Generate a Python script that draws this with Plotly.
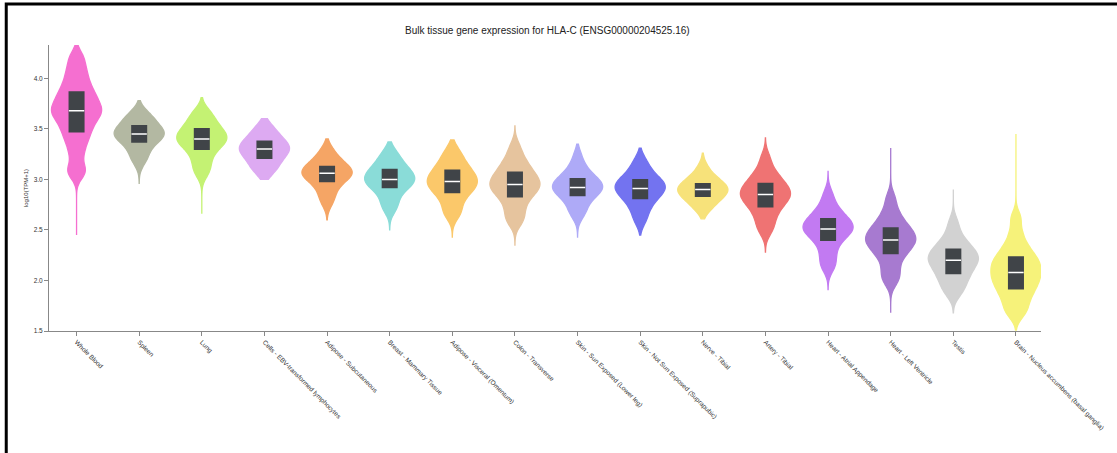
import numpy as np
import plotly.graph_objects as go

tissues = [
    "Whole Blood", "Spleen", "Lung", "Cells - EBV-transformed lymphocytes",
    "Adipose - Subcutaneous", "Breast - Mammary Tissue", "Adipose - Visceral (Omentum)",
    "Colon - Transverse", "Skin - Sun Exposed (Lower leg)", "Skin - Not Sun Exposed (Suprapubic)",
    "Nerve - Tibial", "Artery - Tibial", "Heart - Atrial Appendage", "Heart - Left Ventricle",
    "Testis", "Brain - Nucleus accumbens (basal ganglia)",
]

colors = [
    "#f56fd0", "#b3b8a2", "#c4f273", "#ddaaf2", "#f5a565", "#8adcd8", "#fbc86a",
    "#e6c49e", "#aeaaf7", "#7373f0", "#f7e27a", "#ef7373", "#c27af2", "#a77ad0",
    "#d2d2d2", "#f6f27a",
]

# observed minimum / maximum per tissue (tips of the violins)
lows = [2.45, 2.96, 2.66, 3.00, 2.60, 2.50, 2.43, 2.35, 2.43, 2.45, 2.61, 2.28, 1.91, 1.68, 1.68, 1.51]
highs = [4.33, 3.78, 3.81, 3.60, 3.40, 3.37, 3.39, 3.53, 3.35, 3.31, 3.26, 3.41, 3.08, 3.31, 2.90, 3.45]

# body of each distribution (quantiles)
whole_blood = [3.05, 3.12, 3.25, 3.35, 3.42, 3.48, 3.53, 3.58, 3.62, 3.65, 3.68, 3.71, 3.74, 3.78, 3.82, 3.86, 3.91, 3.97, 4.04, 4.12, 4.22]
spleen = [3.17, 3.21, 3.26, 3.30, 3.34, 3.37, 3.39, 3.41, 3.43, 3.44, 3.45, 3.46, 3.47, 3.49, 3.51, 3.53, 3.56, 3.58, 3.61, 3.64, 3.66]
lung = [3.05, 3.10, 3.16, 3.21, 3.26, 3.30, 3.33, 3.35, 3.37, 3.39, 3.40, 3.42, 3.44, 3.46, 3.48, 3.50, 3.53, 3.56, 3.60, 3.64, 3.68]
ebv = [3.06, 3.09, 3.12, 3.15, 3.18, 3.21, 3.23, 3.25, 3.27, 3.29, 3.30, 3.31, 3.33, 3.34, 3.36, 3.38, 3.40, 3.43, 3.46, 3.50, 3.53]
adipose_subq = [2.76, 2.81, 2.86, 2.91, 2.95, 2.98, 3.00, 3.02, 3.04, 3.05, 3.06, 3.07, 3.08, 3.10, 3.12, 3.13, 3.15, 3.18, 3.21, 3.25, 3.30]
breast = [2.70, 2.74, 2.80, 2.85, 2.89, 2.92, 2.94, 2.96, 2.98, 2.99, 3.00, 3.02, 3.04, 3.06, 3.08, 3.10, 3.12, 3.15, 3.19, 3.23, 3.28]
adipose_visc = [2.64, 2.68, 2.74, 2.80, 2.84, 2.87, 2.90, 2.92, 2.94, 2.96, 2.98, 3.00, 3.02, 3.04, 3.06, 3.09, 3.12, 3.15, 3.19, 3.24, 3.30]
colon = [2.57, 2.62, 2.68, 2.74, 2.79, 2.83, 2.86, 2.89, 2.91, 2.93, 2.95, 2.97, 2.99, 3.02, 3.04, 3.07, 3.10, 3.14, 3.18, 3.24, 3.33]
skin_sun = [2.64, 2.68, 2.73, 2.78, 2.81, 2.84, 2.86, 2.88, 2.90, 2.91, 2.92, 2.94, 2.95, 2.97, 2.99, 3.01, 3.03, 3.06, 3.10, 3.15, 3.24]
skin_not_sun = [2.58, 2.64, 2.70, 2.75, 2.78, 2.81, 2.84, 2.86, 2.88, 2.90, 2.91, 2.93, 2.94, 2.96, 2.98, 3.00, 3.02, 3.05, 3.09, 3.14, 3.20]
nerve = [2.70, 2.73, 2.76, 2.79, 2.81, 2.83, 2.85, 2.86, 2.87, 2.89, 2.90, 2.91, 2.92, 2.93, 2.95, 2.96, 2.98, 3.00, 3.03, 3.07, 3.13]
artery = [2.48, 2.54, 2.60, 2.65, 2.70, 2.73, 2.76, 2.79, 2.81, 2.83, 2.85, 2.87, 2.89, 2.91, 2.93, 2.96, 2.99, 3.02, 3.06, 3.12, 3.22]
heart_aa = [2.12, 2.17, 2.24, 2.30, 2.36, 2.40, 2.43, 2.46, 2.48, 2.50, 2.51, 2.53, 2.55, 2.57, 2.59, 2.61, 2.64, 2.67, 2.71, 2.77, 2.86]
heart_lv = [1.98, 2.04, 2.10, 2.17, 2.23, 2.27, 2.30, 2.33, 2.36, 2.38, 2.40, 2.42, 2.44, 2.47, 2.49, 2.52, 2.55, 2.59, 2.64, 2.71, 2.82]
testis = [1.86, 1.91, 1.96, 2.00, 2.04, 2.07, 2.10, 2.13, 2.16, 2.18, 2.20, 2.22, 2.24, 2.26, 2.28, 2.31, 2.34, 2.37, 2.41, 2.48, 2.58]
brain_nacc = [1.66, 1.72, 1.78, 1.84, 1.88, 1.92, 1.96, 1.99, 2.02, 2.05, 2.08, 2.11, 2.14, 2.17, 2.20, 2.23, 2.27, 2.32, 2.38, 2.48, 2.62]

samples = [whole_blood, spleen, lung, ebv, adipose_subq, breast, adipose_visc, colon,
           skin_sun, skin_not_sun, nerve, artery, heart_aa, heart_lv, testis, brain_nacc]

y_ticks = [1.5, 2.0, 2.5, 3.0, 3.5, 4.0]

fig = go.Figure()
for name, vals, col, lo, hi in zip(tissues, samples, colors, lows, highs):
    fig.add_trace(go.Violin(
        x=[name] * len(vals), y=vals, name=name,
        fillcolor=col, line=dict(color=col, width=1.3),
        bandwidth=0.07, spanmode="manual", span=[lo, hi],
        points=False, width=0.8, scalemode="width",
        box=dict(visible=True, width=0.32, fillcolor="#404448",
                 line=dict(color="rgba(0,0,0,0)", width=0)),
        meanline=dict(visible=False),
        showlegend=False, hoverinfo="skip",
    ))

# white median lines drawn as flat boxes
medians = [float(np.median(v)) for v in samples]
fig.add_trace(go.Box(
    x=tissues, q1=medians, median=medians, q3=medians,
    lowerfence=medians, upperfence=medians,
    width=0.245, fillcolor="rgba(0,0,0,0)", line=dict(color="white", width=1.5),
    boxpoints=False, showlegend=False, hoverinfo="skip",
))

fig.update_layout(
    width=1117, height=453,
    margin=dict(l=49, r=70, t=45, b=122),
    paper_bgcolor="white", plot_bgcolor="white",
    font=dict(family="Liberation Sans, Arial, sans-serif", color="#333", size=6),
    title=dict(text="Bulk tissue gene expression for HLA-C (ENSG00000204525.16)",
               x=0.49, xanchor="center", y=0.932, yanchor="middle",
               font=dict(size=10, color="#222")),
    violinmode="overlay", boxmode="overlay",
    xaxis=dict(type="category", categoryorder="array", categoryarray=tissues,
               range=[-0.44, 15.4], showline=True, linecolor="#888", linewidth=1,
               ticks="outside", ticklen=4, tickcolor="#888", tickangle=45,
               tickfont=dict(size=6.5, color="#333"), showgrid=False, zeroline=False),
    yaxis=dict(range=[1.5, 4.33], tickvals=y_ticks, tickformat=".1f",
               showline=True, linecolor="#888", linewidth=1,
               ticks="outside", ticklen=4, tickcolor="#888",
               tickfont=dict(size=6.5, color="#333"), showgrid=False, zeroline=False,
               title=dict(text="log10(TPM+1)", font=dict(size=6, color="#333"), standoff=4)),
    shapes=[dict(type="rect", xref="paper", yref="paper",
                 x0=-0.0431, x1=1.1, y0=-0.6, y1=1.1434,
                 line=dict(color="black", width=3), fillcolor="rgba(0,0,0,0)", layer="above")],
)

fig.write_html("out.html")
